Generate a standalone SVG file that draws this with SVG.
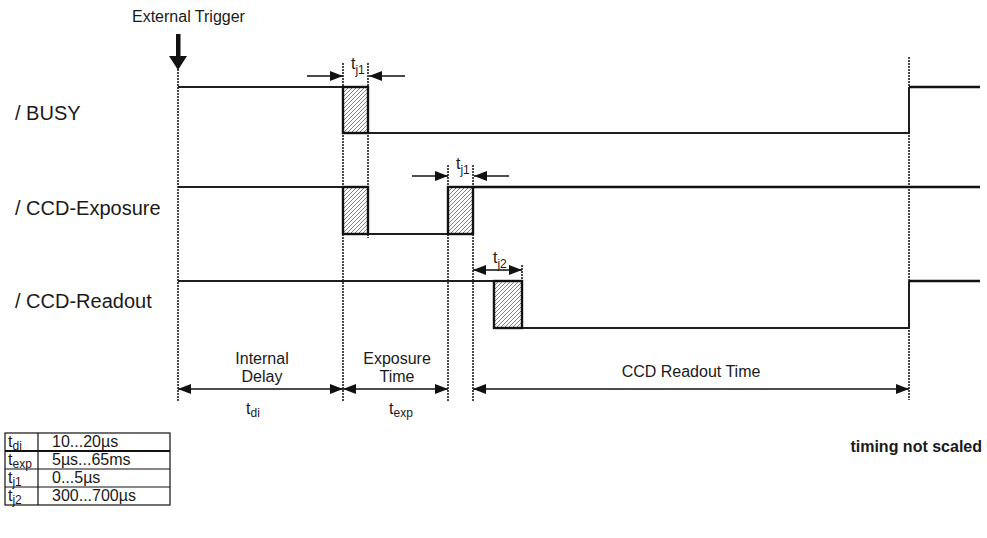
<svg xmlns="http://www.w3.org/2000/svg" width="987" height="538" viewBox="0 0 987 538">
<style>
text{font-family:"Liberation Sans",Arial,sans-serif;fill:#1a1a1a}
.lbl{font-size:20px}
.sm{font-size:16px}
.sub{font-size:12px}
.sig{fill:none;stroke:#1e1e1e;stroke-width:2;stroke-linejoin:miter}
.hi{fill:none;stroke:#111;stroke-width:2.6}
.box{fill:url(#hatch);stroke:#111;stroke-width:2.4}
.dot{stroke:#111;stroke-width:1.5;stroke-dasharray:2 1;fill:none}
.dim{stroke:#111;stroke-width:1.3;fill:none}
.tbl{stroke:#111;stroke-width:1.2;fill:none}
</style>
<defs>
<pattern id="hatch" patternUnits="userSpaceOnUse" width="4" height="4">
<rect width="4" height="4" fill="#fff"/>
<path d="M-1,1 L1,-1 M0,4 L4,0 M3,5 L5,3" stroke="#555" stroke-width="0.75"/>
</pattern>
<marker id="ah" markerUnits="userSpaceOnUse" markerWidth="13" markerHeight="10" refX="13" refY="5" orient="auto-start-reverse">
<path d="M0,0 L13,5 L0,10 z" fill="#111"/>
</marker>
</defs>

<g id="trigger">
<text class="sm" x="132" y="22">External Trigger</text>
<rect x="176" y="34" width="4.5" height="23" fill="#111"/>
<path d="M169,56 L187,56 L178,70 z" fill="#111"/>
</g>

<g id="labels">
<text class="lbl" x="15" y="120">/ BUSY</text>
<text class="lbl" x="15" y="215">/ CCD-Exposure</text>
<text class="lbl" x="15" y="308">/ CCD-Readout</text>
</g>

<g id="guides">
<line class="dot" x1="178" y1="69" x2="178" y2="402"/>
<line class="dot" x1="343" y1="63" x2="343" y2="402"/>
<line class="dot" x1="368" y1="63" x2="368" y2="238"/>
<line class="dot" x1="448" y1="165" x2="448" y2="402"/>
<line class="dot" x1="473" y1="165" x2="473" y2="402"/>
<line class="dot" x1="522" y1="265" x2="522" y2="283"/>
<line class="dot" x1="909" y1="57" x2="909" y2="400"/>
</g>

<g id="busy">
<path class="sig" d="M178,87 H343 M368,133 H909 V87"/>
<path class="hi" d="M909,87 H980"/>
<rect class="box" x="343" y="87" width="25" height="46"/>
</g>

<g id="exposure">
<path class="sig" d="M178,187 H343 M368,234 H448"/>
<path class="hi" d="M473,187 H980"/>
<rect class="box" x="343" y="187" width="25" height="47"/>
<rect class="box" x="448" y="187" width="25" height="47"/>
</g>

<g id="readout">
<path class="sig" d="M178,281 H494 M522,328 H909 V281"/>
<path class="hi" d="M909,281 H980"/>
<rect class="box" x="494" y="281" width="28" height="47"/>
</g>

<g id="connectors">
<line class="dim" x1="307" y1="76" x2="343" y2="76" marker-end="url(#ah)"/>
<line class="dim" x1="405" y1="76" x2="369" y2="76" marker-end="url(#ah)"/>
<line class="dim" x1="412" y1="176" x2="448" y2="176" marker-end="url(#ah)"/>
<line class="dim" x1="509" y1="176" x2="474" y2="176" marker-end="url(#ah)"/>
<line class="dim" x1="473" y1="270" x2="522" y2="270" marker-start="url(#ah)" marker-end="url(#ah)"/>
<line class="dim" x1="178" y1="389" x2="343" y2="389" marker-start="url(#ah)" marker-end="url(#ah)"/>
<line class="dim" x1="343" y1="389" x2="448" y2="389" marker-start="url(#ah)" marker-end="url(#ah)"/>
<line class="dim" x1="473" y1="389" x2="909" y2="389" marker-start="url(#ah)" marker-end="url(#ah)"/>
</g>

<g id="dim-labels">
<text class="sm" x="351" y="69">t<tspan class="sub" dy="5">j1</tspan></text>
<text class="sm" x="456" y="169">t<tspan class="sub" dy="5">j1</tspan></text>
<text class="sm" x="493" y="263">t<tspan class="sub" dy="5">j2</tspan></text>
<text class="sm" x="262" y="364" text-anchor="middle">Internal</text>
<text class="sm" x="262" y="382" text-anchor="middle">Delay</text>
<text class="sm" x="246" y="414">t<tspan class="sub" dy="3">di</tspan></text>
<text class="sm" x="397" y="364" text-anchor="middle">Exposure</text>
<text class="sm" x="397" y="382" text-anchor="middle">Time</text>
<text class="sm" x="389" y="414">t<tspan class="sub" dy="3">exp</tspan></text>
<text class="sm" x="691" y="377" text-anchor="middle">CCD Readout Time</text>
</g>

<g id="note">
<text x="982" y="452" text-anchor="end" style="font-size:16px;font-weight:bold">timing not scaled</text>
</g>

<g id="table">
<rect class="tbl" x="5" y="433" width="165" height="72"/>
<line class="tbl" x1="38" y1="433" x2="38" y2="505"/>
<line class="tbl" x1="5" y1="451" x2="170" y2="451" style="stroke-width:1.8"/>
<line class="tbl" x1="5" y1="469" x2="170" y2="469"/>
<line class="tbl" x1="5" y1="487" x2="170" y2="487"/>
<text class="sm" x="8" y="447">t<tspan class="sub" dy="3">di</tspan></text>
<text class="sm" x="8" y="465">t<tspan class="sub" dy="3">exp</tspan></text>
<text class="sm" x="8" y="483">t<tspan class="sub" dy="3">j1</tspan></text>
<text class="sm" x="8" y="501">t<tspan class="sub" dy="3">j2</tspan></text>
<text class="sm" x="52" y="447">10...20µs</text>
<text class="sm" x="52" y="465">5µs...65ms</text>
<text class="sm" x="52" y="483">0...5µs</text>
<text class="sm" x="52" y="501">300...700µs</text>
</g>
</svg>
